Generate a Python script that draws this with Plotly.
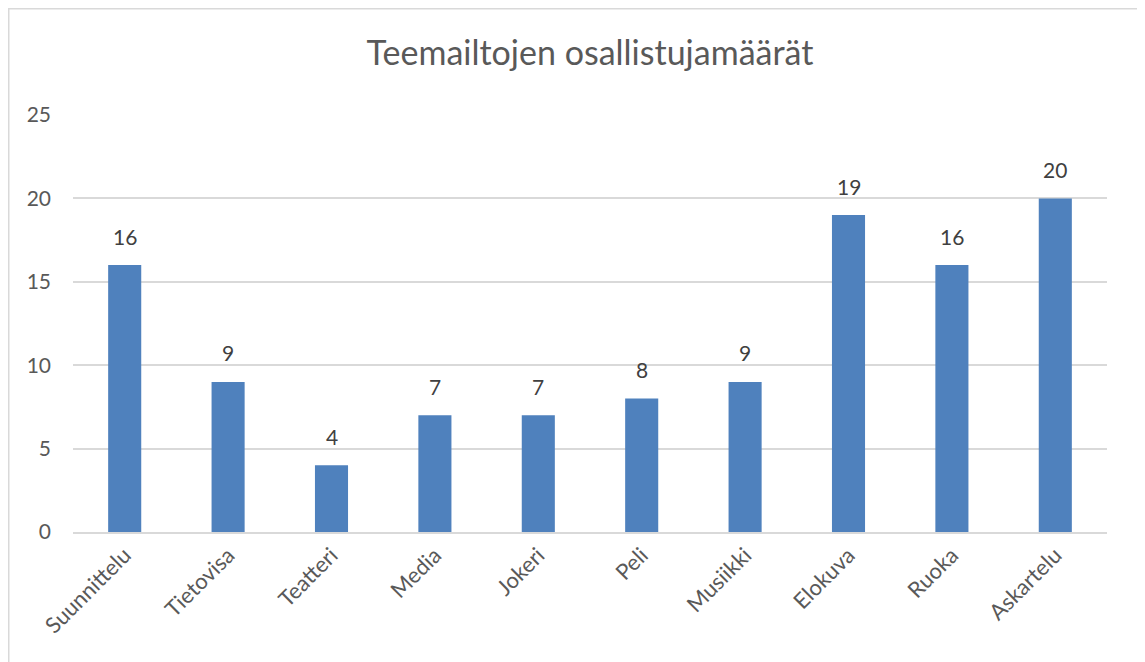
import plotly.graph_objects as go

# --- DATA ---
categories = ["Suunnittelu", "Tietovisa", "Teatteri", "Media", "Jokeri",
              "Peli", "Musiikki", "Elokuva", "Ruoka", "Askartelu"]
participants = [16, 9, 4, 7, 7, 8, 9, 19, 16, 20]
y_ticks = [0, 5, 10, 15, 20, 25]

BAR_COLOR = "#4F81BD"
TEXT_COLOR = "#595959"
GRID_COLOR = "#D9D9D9"
FONT = "Lato"

# page body has an 8px margin, so figure coords = screen coords - 8
W, H = 1145, 662
L, T = 65, 107
PLOT_R, PLOT_B = 1099, 524
R, B = W - PLOT_R, H - PLOT_B

fig = go.Figure()
fig.add_trace(go.Bar(
    x=categories,
    y=participants,
    marker=dict(color=BAR_COLOR, line=dict(width=0)),
    width=0.32,
    hoverinfo="x+y",
))

# data labels above the bars
for cat, val in zip(categories, participants):
    fig.add_annotation(
        x=cat, y=val, text=str(val), showarrow=False,
        yanchor="middle", yshift=29,
        font=dict(family=FONT, size=21, color="#404040"),
    )

# chart-area frame
pw, ph = PLOT_R - L, PLOT_B - T
fig.add_shape(
    type="rect", xref="paper", yref="paper",
    x0=(0.75 - L) / pw, x1=(1133 - L) / pw,
    y0=(PLOT_B - 700) / ph, y1=(PLOT_B - 0.75) / ph,
    line=dict(color=GRID_COLOR, width=1.5), fillcolor="rgba(0,0,0,0)",
    layer="below",
)

fig.update_layout(
    width=W, height=H,
    margin=dict(l=L, r=R, t=T, b=B, autoexpand=False),
    paper_bgcolor="white",
    plot_bgcolor="white",
    showlegend=False,
    title=dict(
        text="Teemailtojen osallistujamäärät",
        x=0.5, xref="paper", xanchor="center",
        y=(H - 45) / H, yanchor="middle",
        font=dict(family=FONT, size=34, color=TEXT_COLOR),
    ),
    font=dict(family=FONT, color=TEXT_COLOR),
)

fig.update_xaxes(
    tickangle=-45,
    tickfont=dict(family=FONT, size=22, color=TEXT_COLOR),
    showgrid=False,
    showline=True, linecolor=GRID_COLOR, linewidth=1.5,
    ticks="",
    automargin=False,
)
fig.update_yaxes(
    range=[0, 25],
    tickvals=y_ticks,
    tickfont=dict(family=FONT, size=21, color=TEXT_COLOR),
    showgrid=True, gridcolor=GRID_COLOR, gridwidth=1.5,
    zeroline=False,
    showline=False,
    ticks="",
    ticklabelstandoff=21,
    automargin=False,
)

fig.write_html("out.html")
